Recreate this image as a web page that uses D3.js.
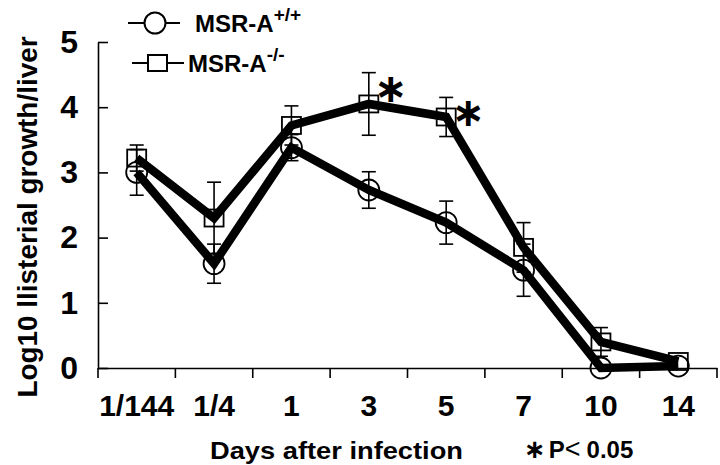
<!DOCTYPE html>
<html>
<head>
<meta charset="utf-8">
<script src="https://cdn.jsdelivr.net/npm/d3@7"></script>
<style>
  body { margin: 0; background: #fff; }
  svg { display: block; font-family: "Liberation Sans", Arial, Helvetica, sans-serif; font-weight: bold; }
</style>
</head>
<body>
<div id="chart"><svg></svg></div>
<script>
var width = 720,
    height = 465;

// days after infection
var days = ["1/144", "1/4", "1", "3", "5", "7", "10", "14"];

// MSR-A +/+ (circles)
var wtMean = [3.0, 1.6, 3.38, 2.73, 2.23, 1.5, 0.0, 0.03],
    wtErr  = [0.35, 0.3, 0.2, 0.28, 0.33, 0.4, 0.0, 0.0];

// MSR-A -/- (squares)
var koMean = [3.22, 2.3, 3.72, 4.05, 3.85, 1.85, 0.4, 0.1],
    koErr  = [0.2, 0.55, 0.3, 0.48, 0.3, 0.38, 0.22, 0.0];

// significant differences (P < 0.05)
var signif = [false, false, false, true, true, false, false, false];

var yTicks = [0, 1, 2, 3, 4, 5];

var x = d3.scaleBand()
  .domain(days)
  .range([98, 717])
  .padding(0);

var y = d3.scaleLinear()
  .domain([0, 5])
  .range([368, 42]);

var svg = d3.select("#chart svg")
  .attr("width", width)
  .attr("height", height);

var cx = function (d, i) { return x(days[i]) + x.bandwidth() / 2; };

// y axis
var yAxis = svg.append("g")
    .attr("transform", "translate(98,0)")
    .call(d3.axisLeft(y).tickValues(yTicks).tickFormat(d3.format("d"))
      .tickSizeInner(-10).tickSizeOuter(0).tickPadding(20));
yAxis.select(".domain").attr("stroke", "#000").attr("stroke-width", 1.6);
yAxis.selectAll(".tick line").attr("stroke", "#000").attr("stroke-width", 1.6);
yAxis.selectAll(".tick text")
    .attr("font-size", 32)
    .attr("font-family", "Liberation Sans, Arial, sans-serif")
    .attr("font-weight", "bold")
    .attr("fill", "#000");

// x axis
var xAxis = svg.append("g")
    .attr("transform", "translate(0,368)")
    .call(d3.axisBottom(x).tickSizeInner(0).tickSizeOuter(0).tickPadding(27));
xAxis.select(".domain").attr("stroke", "#000").attr("stroke-width", 1.6);
xAxis.selectAll(".tick text")
    .attr("font-size", 30)
    .attr("font-family", "Liberation Sans, Arial, sans-serif")
    .attr("font-weight", "bold")
    .attr("fill", "#000");

// tick marks on band boundaries
xAxis.selectAll(".bound")
    .data(d3.range(days.length + 1))
  .enter().append("line")
    .attr("class", "bound")
    .attr("x1", function (i) { return x.range()[0] + i * x.step(); })
    .attr("x2", function (i) { return x.range()[0] + i * x.step(); })
    .attr("y1", 0)
    .attr("y2", 10)
    .attr("stroke", "#000")
    .attr("stroke-width", 1.6);

// axis titles
svg.append("text")
    .attr("transform", "translate(37,217) rotate(-90)")
    .attr("text-anchor", "middle")
    .attr("font-size", 28)
    .attr("textLength", 361)
    .attr("lengthAdjust", "spacingAndGlyphs")
    .text("Log10 llisterial growth/liver");

svg.append("text")
    .attr("x", 210)
    .attr("y", 459)
    .attr("font-size", 24)
    .attr("textLength", 253)
    .attr("lengthAdjust", "spacingAndGlyphs")
    .text("Days after infection");

var pNote = svg.append("text")
    .attr("x", 524)
    .attr("y", 458)
    .attr("font-size", 24);
pNote.append("tspan").attr("font-family", "DejaVu Sans").attr("font-size", 26).text("∗");
pNote.append("tspan").attr("dx", 3).text("P");
pNote.append("tspan").attr("font-weight", "normal").attr("font-size", 27).text("<");
pNote.append("tspan").attr("dx", 6).text("0.05");

// error bars
function errorBars(mean, err, cls) {
  var g = svg.append("g").attr("class", cls)
      .attr("stroke", "#000").attr("stroke-width", 1.6).attr("fill", "none");
  g.selectAll("line.v")
      .data(mean)
    .enter().append("line")
      .attr("class", "v")
      .attr("x1", cx).attr("x2", cx)
      .attr("y1", function (d, i) { return y(d - err[i]); })
      .attr("y2", function (d, i) { return y(d + err[i]); });
  g.selectAll("line.top")
      .data(mean)
    .enter().append("line")
      .attr("class", "top")
      .attr("x1", function (d, i) { return cx(d, i) - 7; })
      .attr("x2", function (d, i) { return cx(d, i) + 7; })
      .attr("y1", function (d, i) { return y(d + err[i]); })
      .attr("y2", function (d, i) { return y(d + err[i]); })
      .attr("display", function (d, i) { return err[i] > 0 ? null : "none"; });
  g.selectAll("line.bot")
      .data(mean)
    .enter().append("line")
      .attr("class", "bot")
      .attr("x1", function (d, i) { return cx(d, i) - 7; })
      .attr("x2", function (d, i) { return cx(d, i) + 7; })
      .attr("y1", function (d, i) { return y(d - err[i]); })
      .attr("y2", function (d, i) { return y(d - err[i]); })
      .attr("display", function (d, i) { return err[i] > 0 ? null : "none"; });
}
errorBars(wtMean, wtErr, "wt-err");
errorBars(koMean, koErr, "ko-err");

// markers
svg.append("g")
    .selectAll("circle")
    .data(wtMean)
  .enter().append("circle")
    .attr("cx", cx)
    .attr("cy", function (d) { return y(d); })
    .attr("r", 10.5)
    .attr("fill", "none")
    .attr("stroke", "#000")
    .attr("stroke-width", 1.8);

svg.append("g")
    .selectAll("rect")
    .data(koMean)
  .enter().append("rect")
    .attr("x", function (d, i) { return cx(d, i) - 9.5; })
    .attr("y", function (d) { return y(d) - 8.5; })
    .attr("width", 19)
    .attr("height", 17)
    .attr("fill", "none")
    .attr("stroke", "#000")
    .attr("stroke-width", 1.8);

// lines
var line = d3.line()
  .x(function (d, i) { return cx(d, i); })
  .y(function (d) { return y(d); });

svg.append("path")
    .datum(wtMean)
    .attr("d", line)
    .attr("fill", "none")
    .attr("stroke", "#000")
    .attr("stroke-width", 8.5);

svg.append("path")
    .datum(koMean)
    .attr("d", line)
    .attr("fill", "none")
    .attr("stroke", "#000")
    .attr("stroke-width", 8.5);

// significance stars
svg.append("g")
    .selectAll("text")
    .data(koMean.map(function (d, i) { return { v: d, i: i }; })
      .filter(function (d) { return signif[d.i]; }))
  .enter().append("text")
    .attr("x", function (d) { return cx(d.v, d.i) + 22; })
    .attr("y", function (d) { return y(d.v + koErr[d.i]) + 15; })
    .attr("dy", "0.35em")
    .attr("text-anchor", "middle")
    .attr("font-family", "DejaVu Sans")
    .attr("font-size", 40)
    .text("∗");

// legend
var legend = [
  { label: "MSR-A", sup: "+/+", shape: "circle", lx: 128, ly: 23, tx: 195 },
  { label: "MSR-A", sup: "-/-", shape: "square", lx: 132, ly: 63, tx: 188 }
];

var lg = svg.append("g").selectAll("g")
    .data(legend)
  .enter().append("g");

lg.append("line")
    .attr("x1", function (d) { return d.lx; })
    .attr("x2", function (d) { return d.lx + 52; })
    .attr("y1", function (d) { return d.ly; })
    .attr("y2", function (d) { return d.ly; })
    .attr("stroke", "#000")
    .attr("stroke-width", 2.2);

lg.filter(function (d) { return d.shape === "circle"; })
  .append("circle")
    .attr("cx", function (d) { return d.lx + 27; })
    .attr("cy", function (d) { return d.ly; })
    .attr("r", 10.5)
    .attr("fill", "#fff")
    .attr("stroke", "#000")
    .attr("stroke-width", 2);

lg.filter(function (d) { return d.shape === "square"; })
  .append("rect")
    .attr("x", function (d) { return d.lx + 16; })
    .attr("y", function (d) { return d.ly - 8; })
    .attr("width", 19)
    .attr("height", 16)
    .attr("fill", "#fff")
    .attr("stroke", "#000")
    .attr("stroke-width", 2);

var lt = lg.append("text")
    .attr("x", function (d) { return d.tx; })
    .attr("y", function (d) { return d.ly + 9; })
    .attr("font-size", 24);
lt.append("tspan").text(function (d) { return d.label; });
lt.append("tspan")
    .attr("font-size", 19)
    .attr("dy", -11)
    .text(function (d) { return d.sup; });
</script>
</body>
</html>
